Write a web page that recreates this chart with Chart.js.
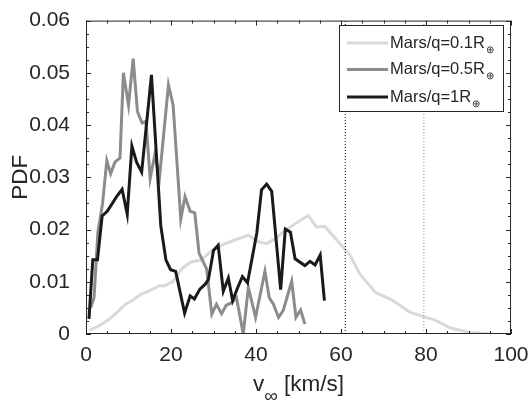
<!DOCTYPE html>
<html>
<head>
<meta charset="utf-8">
<script src="https://cdn.jsdelivr.net/npm/chart.js@4/dist/chart.umd.min.js"></script>
<style>
  html, body { margin: 0; padding: 0; background: #fff; }
</style>
</head>
<body>
<canvas id="pdf-chart" width="530" height="404"></canvas>
<script>
/* ===== DATA ===== */

const xTickLabels = ["0", "20", "40", "60", "80", "100"];
const yTickLabels = ["0", "0.01", "0.02", "0.03", "0.04", "0.05", "0.06"];

const seriesLabels = ["Mars/q=0.1R", "Mars/q=0.5R", "Mars/q=1R"];
const labelSubscript = "\u2295";

// Mars/q=0.1R
const lightV = [0.7, 2.7, 5.0, 7.0, 9.3, 10.9, 12.9, 14.8, 17.2, 18.7, 20.5, 22.7, 24.7, 27.2, 29.6, 31.9,
  34.7, 38.2, 40.5, 42.5, 44.5, 46.8, 49.4, 52.3, 54.2, 56.2, 60.3, 62.1, 64.5, 68.2, 71.8, 76.2,
  79.5, 82.0, 86.0, 90.4, 95.5];
const lightPdf = [0.0007, 0.0014, 0.0026, 0.0039, 0.0057, 0.0064, 0.0076, 0.0082, 0.0092, 0.0093, 0.0101,
  0.0126, 0.0138, 0.0142, 0.0160, 0.0170, 0.0179, 0.0189, 0.0177, 0.0173, 0.0182, 0.0198, 0.0212, 0.0227,
  0.0205, 0.0206, 0.0168, 0.0151, 0.0114, 0.0079, 0.0066, 0.0042, 0.0033, 0.0027, 0.0011, 0.0003, 0.0];

// Mars/q=0.5R
const midV = [1.1, 1.9, 2.8, 3.9, 4.9, 5.8, 6.8, 8.0, 8.8, 10.0, 11.1, 12.1, 13.2, 14.1, 15.1, 16.2, 17.3,
  19.4, 20.5, 22.3, 23.3, 24.5, 25.6, 26.6, 28.4, 29.6, 30.7, 31.9, 33.0, 34.3, 35.4, 37.0, 38.2, 39.9,
  42.1, 43.1, 44.1, 45.3, 46.4, 48.4, 49.4, 50.5, 51.5];
const midPdf = [0.0050, 0.0070, 0.0195, 0.0250, 0.0332, 0.0307, 0.0329, 0.0337, 0.0500, 0.0438, 0.0527,
  0.0426, 0.0404, 0.0407, 0.0298, 0.0343, 0.0300, 0.0477, 0.0438, 0.0220, 0.0263, 0.0235, 0.0232, 0.0155,
  0.0124, 0.0038, 0.0057, 0.0039, 0.0055, 0.0060, 0.0070, 0.0, 0.0089, 0.0032, 0.0120, 0.0070, 0.0057,
  0.0032, 0.0045, 0.0101, 0.0032, 0.0046, 0.0019];

// Mars/q=1R
const darkV = [0.7, 1.6, 2.7, 3.8, 5.0, 7.2, 8.5, 9.7, 10.8, 11.9, 13.1, 15.4, 17.6, 18.8, 19.9, 21.1,
  23.2, 24.5, 25.5, 26.8, 28.0, 28.8, 30.0, 31.1, 32.3, 33.5, 34.5, 35.7, 36.8, 38.0, 40.2, 41.3, 42.5,
  43.7, 45.8, 46.9, 48.1, 49.2, 51.5, 52.7, 53.9, 55.1, 56.1];
const darkPdf = [0.0029, 0.0142, 0.0142, 0.0226, 0.0235, 0.0263, 0.0277, 0.0229, 0.0360, 0.0329, 0.0310,
  0.0496, 0.0207, 0.0142, 0.0123, 0.0120, 0.0040, 0.0073, 0.0067, 0.0086, 0.0095, 0.0104, 0.0160, 0.0170,
  0.0082, 0.0107, 0.0064, 0.0089, 0.0110, 0.0098, 0.0194, 0.0276, 0.0287, 0.0273, 0.0085, 0.0201, 0.0195,
  0.0144, 0.0131, 0.0139, 0.0132, 0.0151, 0.0064];

// vertical dotted markers
const markerV = [61, 79.5];

/* ===== HELPERS ===== */

const FONT = "'Liberation Sans', Arial, sans-serif";
const AXIS_COLOR = "#262626";

function toPoints(xs, ys) {
  return xs.map((x, i) => ({ x, y: ys[i] }));
}

function markerLine(v, color, order) {
  return {
    data: [{ x: v, y: 0 }, { x: v, y: 0.06 }],
    borderColor: color,
    borderWidth: 1,
    borderDash: [1, 2],
    pointRadius: 0,
    order
  };
}

/* ===== PLUGINS ===== */

// box + inward ticks on all four sides, x title, legend
const framePlugin = {
  id: "frame",
  afterDatasetsDraw(chart) {
    const { ctx, chartArea: a, scales: { x, y } } = chart;
    ctx.save();
    ctx.strokeStyle = AXIS_COLOR;
    ctx.lineWidth = 1;
    ctx.strokeRect(a.left + 0.5, a.top + 0.5, a.right - a.left - 1, a.bottom - a.top - 1);

    ctx.beginPath();
    for (let v = 0; v <= 100; v += 5) {
      const px = Math.round(x.getPixelForValue(v)) + 0.5;
      const len = v % 20 === 0 ? 5 : 3;
      ctx.moveTo(px, a.bottom); ctx.lineTo(px, a.bottom - len);
      ctx.moveTo(px, a.top); ctx.lineTo(px, a.top + len);
    }
    for (let k = 0; k <= 24; k++) {
      const py = Math.round(y.getPixelForValue(k * 0.0025)) + 0.5;
      const len = k % 4 === 0 ? 5 : 3;
      ctx.moveTo(a.left, py); ctx.lineTo(a.left + len, py);
      ctx.moveTo(a.right, py); ctx.lineTo(a.right - len, py);
    }
    ctx.stroke();
    ctx.restore();
  },
  afterDraw(chart) {
    const { ctx, chartArea: a } = chart;
    ctx.save();
    ctx.fillStyle = AXIS_COLOR;
    ctx.textBaseline = "alphabetic";

    // x title with subscript infinity
    const big = "22.5px " + FONT;
    const small = "19px " + FONT;
    ctx.font = big;
    const wV = ctx.measureText("v").width;
    const wRest = ctx.measureText(" [km/s]").width;
    ctx.font = small;
    const wInf = ctx.measureText("\u221E").width;
    const cx = (a.left + a.right) / 2;
    const xs = cx - (wV + wInf + wRest) / 2;
    const base = 391;
    ctx.font = big;
    ctx.fillText("v", xs, base);
    ctx.font = small;
    ctx.fillText("\u221E", xs + wV, base + 11);
    ctx.font = big;
    ctx.fillText(" [km/s]", xs + wV + wInf, base);

    // legend
    const box = { x: 339.5, y: 25.5, w: 164, h: 86 };
    ctx.fillStyle = "#fff";
    ctx.fillRect(box.x, box.y, box.w, box.h);
    ctx.strokeStyle = AXIS_COLOR;
    ctx.lineWidth = 1;
    ctx.strokeRect(box.x, box.y, box.w, box.h);

    const rows = [43, 69.5, 97];
    const byLabel = seriesLabels.map(l => chart.data.datasets.find(d => d.label === l));
    byLabel.forEach((ds, i) => {
      ctx.strokeStyle = ds.borderColor;
      ctx.lineWidth = ds.borderWidth;
      ctx.beginPath();
      ctx.moveTo(347, rows[i]);
      ctx.lineTo(388, rows[i]);
      ctx.stroke();

      ctx.fillStyle = AXIS_COLOR;
      ctx.font = "16.5px " + FONT;
      ctx.textBaseline = "middle";
      ctx.fillText(ds.label, 390, rows[i]);
      const w = ctx.measureText(ds.label).width;
      ctx.font = "10px " + FONT;
      ctx.fillText(labelSubscript, 390 + w + 1, rows[i] + 7);
    });
    ctx.restore();
  }
};

/* ===== CHART ===== */

const canvas = document.getElementById("pdf-chart");

new Chart(canvas, {
  type: "line",
  data: {
    datasets: [
      { label: seriesLabels[2], data: toPoints(darkV, darkPdf), borderColor: "#1a1a1a", borderWidth: 3, order: 0 },
      { label: seriesLabels[1], data: toPoints(midV, midPdf), borderColor: "#8c8c8c", borderWidth: 3, order: 1 },
      { label: seriesLabels[0], data: toPoints(lightV, lightPdf), borderColor: "#d9d9d9", borderWidth: 3, order: 3 },
      markerLine(markerV[0], "#000000", 2),
      markerLine(markerV[1], "#8a8a8a", 2)
    ].map(d => Object.assign({ pointRadius: 0, fill: false, tension: 0, borderJoinStyle: "miter" }, d))
  },
  options: {
    responsive: false,
    animation: false,
    devicePixelRatio: 1,
    layout: { padding: { top: 13, right: 19, left: 0, bottom: 0 } },
    plugins: {
      legend: { display: false },
      tooltip: { enabled: false }
    },
    scales: {
      x: {
        type: "linear",
        min: 0,
        max: 100,
        grid: { display: false },
        border: { display: false },
        ticks: {
          stepSize: 20,
          padding: 1,
          maxRotation: 0,
          color: AXIS_COLOR,
          font: { family: FONT, size: 21 },
          callback: (v, i) => xTickLabels[i]
        },
        afterFit: s => { s.height = 70; }
      },
      y: {
        min: 0,
        max: 0.06,
        grid: { display: false },
        border: { display: false },
        ticks: {
          stepSize: 0.01,
          padding: 8,
          color: AXIS_COLOR,
          font: { family: FONT, size: 21 },
          callback: (v, i) => yTickLabels[i]
        },
        title: {
          display: true,
          text: "PDF",
          color: AXIS_COLOR,
          font: { family: FONT, size: 22.5 },
          padding: { top: 7, bottom: 0 }
        },
        afterFit: s => { s.width = 86; }
      }
    }
  },
  plugins: [framePlugin]
});
</script>
</body>
</html>
